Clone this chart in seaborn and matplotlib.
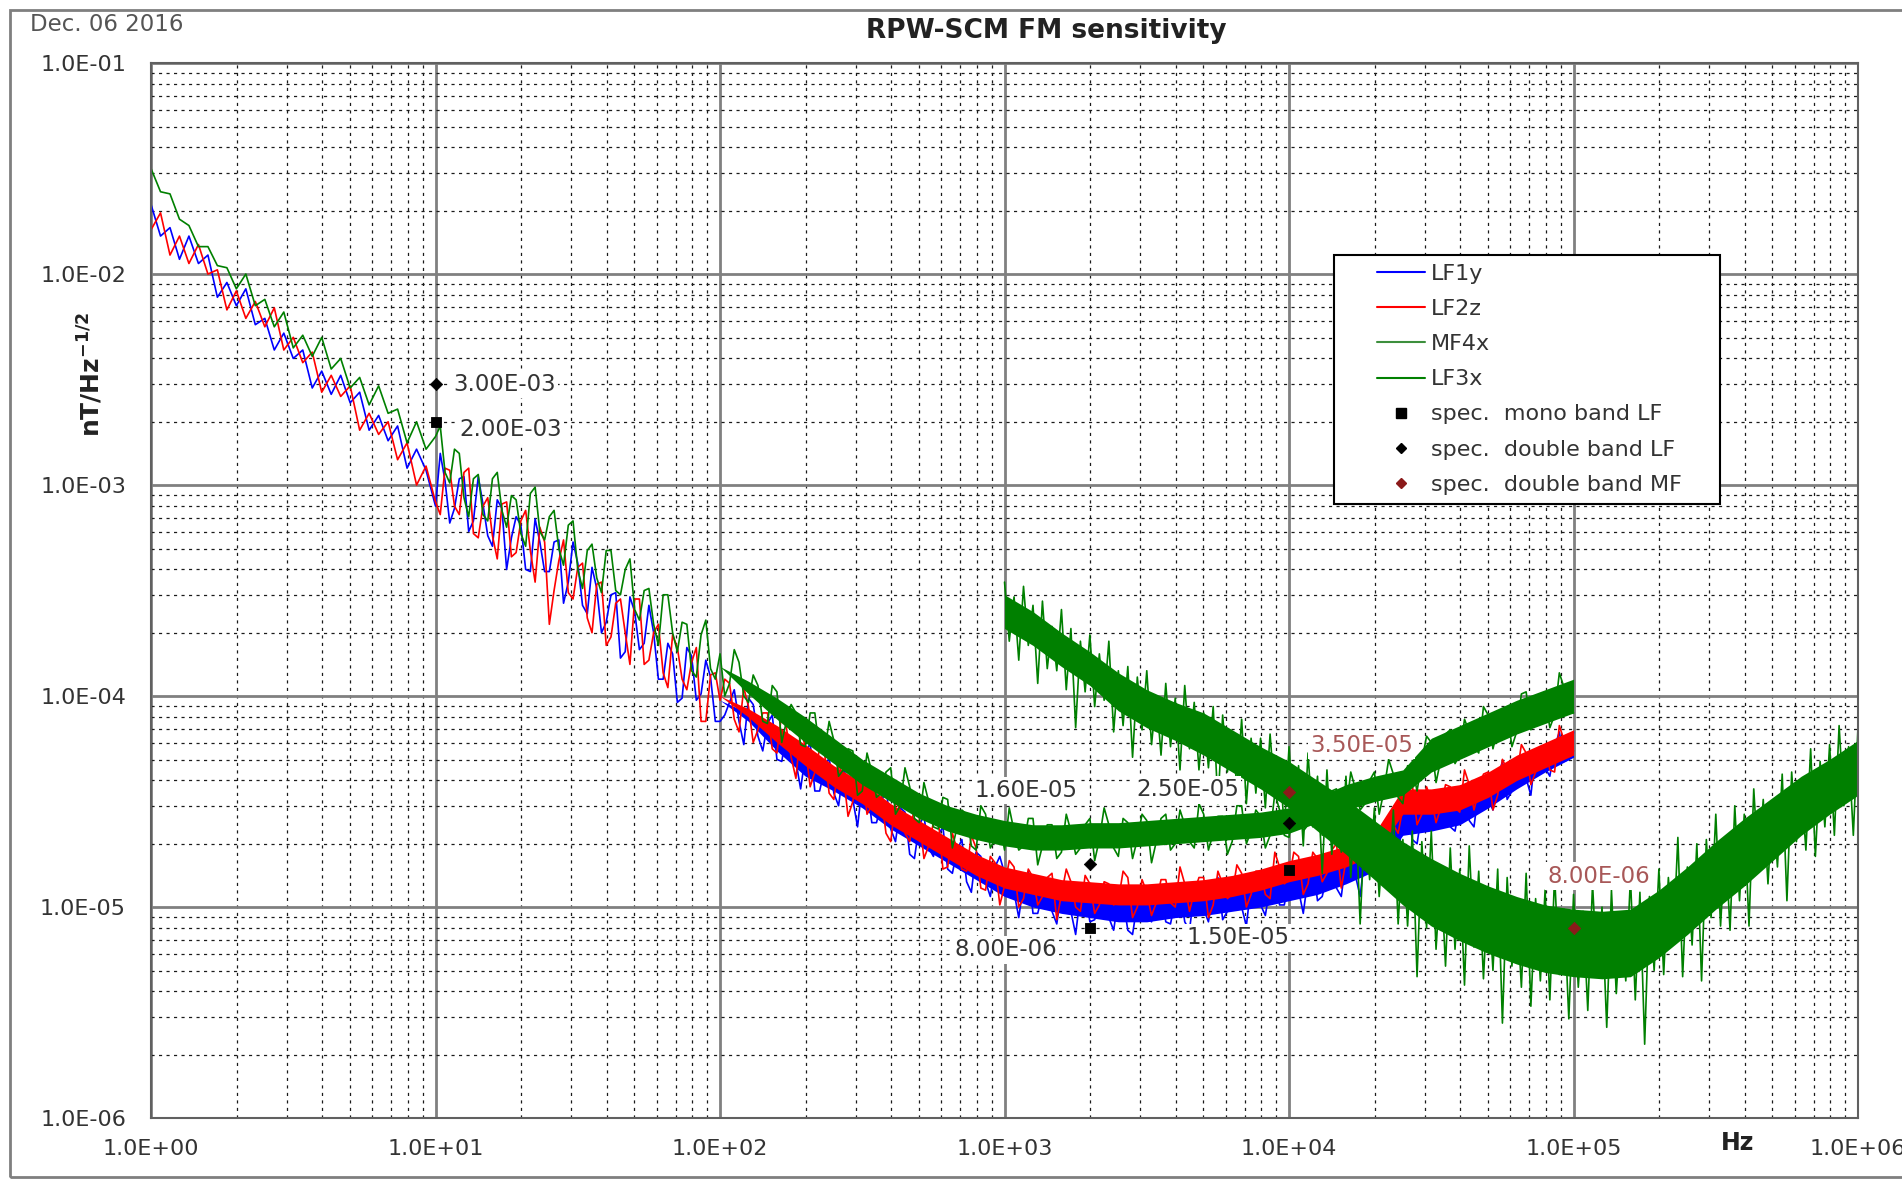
import numpy as np
import pandas as pd
import matplotlib
matplotlib.use("Agg")
import matplotlib.pyplot as plt
import seaborn as sns
from matplotlib.lines import Line2D
from matplotlib.patches import Rectangle
from matplotlib.legend_handler import HandlerLine2D
from matplotlib.ticker import LogLocator, FuncFormatter, NullFormatter

sns.set_theme(style="white")
plt.rcParams['font.family'] = ['DejaVu Sans']
plt.rcParams['mathtext.fontset'] = 'dejavusans'

# ---------------- data ----------------
# sample grid: 30 samples per decade, plus the in-between samples
DECADE_STEPS = [1.000, 1.080, 1.166, 1.259, 1.359, 1.468, 1.585, 1.711, 1.848, 1.995,
                2.154, 2.326, 2.512, 2.712, 2.929, 3.162, 3.415, 3.687, 3.981, 4.299,
                4.642, 5.012, 5.412, 5.843, 6.310, 6.813, 7.356, 7.943, 8.577, 9.261]
MID_STEPS = [1.039, 1.122, 1.212, 1.308, 1.413, 1.526, 1.648, 1.778, 1.920, 2.074,
             2.239, 2.418, 2.610, 2.818, 3.043, 3.286, 3.548, 3.831, 4.137, 4.467,
             4.823, 5.208, 5.623, 6.072, 6.556, 7.079, 7.644, 8.254, 8.913, 9.624]
LF_DECADES = [1, 10, 100, 1000, 10000]
LF_MID_DECADES = [10, 100, 1000, 10000]
LF_END = 1e5
MF_DECADES = [1000, 10000, 100000]
MF_END = 1e6

# amplitudes stored as log10(nT/Hz^1/2)
LF1Y_LOG10 = [
    -1.67, -1.82, -1.78, -1.93, -1.82, -1.95, -1.91, -2.11, -2.04, -2.15,
    -2.07, -2.24, -2.21, -2.36, -2.28, -2.40, -2.36, -2.54, -2.46, -2.57,
    -2.48, -2.61, -2.56, -2.74, -2.67, -2.79, -2.72, -2.92, -2.83, -2.93,
    -3.10, -2.98, -3.11, -2.96, -3.17, -3.09, -3.29, -3.11, -3.25, -3.19,
    -3.41, -3.27, -3.41, -3.26, -3.46, -3.37, -3.61, -3.49, -3.65, -3.51,
    -3.79, -3.60, -3.75, -3.70, -3.92, -3.80, -4.01, -3.81, -3.99, -3.91,
    -4.12, -4.03, -4.12, -4.01, -4.19, -4.13, -4.30, -4.18, -4.31, -4.28,
    -4.45, -4.35, -4.46, -4.35, -4.49, -4.42, -4.60, -4.51, -4.63, -4.53,
    -4.75, -4.61, -4.72, -4.66, -4.82, -4.73, -4.88, -4.74, -4.88, -4.81,
    -4.84, -4.93, -4.89, -5.03, -4.94, -5.02, -4.92, -5.02, -4.94, -5.07,
    -4.98, -5.05, -4.96, -5.11, -4.98, -5.04, -4.97, -5.07, -4.97, -5.07,
    -4.93, -5.01, -4.93, -5.06, -4.96, -5.00, -4.89, -4.99, -4.90, -4.99,
    -4.86, -4.92, -4.86, -4.97, -4.85, -4.91, -4.78, -4.85, -4.75, -4.85,
    -4.73, -4.78, -4.54, -4.68, -4.55, -4.60, -4.53, -4.62, -4.52, -4.59,
    -4.44, -4.49, -4.39, -4.49, -4.37, -4.39, -4.26, -4.34, -4.24, -4.31,
    -4.17]
LF1Y_MID_LOG10 = [
    -2.85, -3.18, -2.97, -3.22, -2.96, -3.24, -3.07, -3.40, -3.15, -3.40,
    -3.16, -3.41, -3.27, -3.56, -3.27, -3.57, -3.39, -3.70, -3.52, -3.82,
    -3.53, -3.78, -3.57, -3.92, -3.75, -4.03, -3.77, -4.02, -3.83, -4.12,
    -4.09, -3.97, -4.23, -4.04, -4.26, -4.09, -4.31, -4.22, -4.44, -4.22,
    -4.45, -4.29, -4.52, -4.39, -4.62, -4.41, -4.60, -4.43, -4.69, -4.55,
    -4.77, -4.57, -4.76, -4.62, -4.84, -4.68, -4.93, -4.76, -4.95, -4.76,
    -4.86, -5.05, -4.83, -5.03, -4.88, -5.08, -4.93, -5.13, -4.92, -5.06,
    -4.89, -5.11, -4.96, -5.13, -4.93, -5.07, -4.91, -5.08, -4.91, -5.11,
    -4.93, -5.07, -4.86, -5.02, -4.89, -5.09, -4.88, -5.04, -4.84, -4.99,
    -4.87, -5.03, -4.79, -4.95, -4.78, -4.95, -4.78, -4.95, -4.71, -4.83,
    -4.63, -4.79, -4.54, -4.70, -4.49, -4.63, -4.47, -4.64, -4.45, -4.62,
    -4.42, -4.54, -4.31, -4.45, -4.29, -4.47, -4.24, -4.38, -4.17, -4.30]

LF2Z_LOG10 = [
    -1.79, -1.71, -1.91, -1.82, -1.95, -1.86, -2.00, -1.98, -2.17, -2.08,
    -2.21, -2.13, -2.25, -2.16, -2.36, -2.30, -2.42, -2.37, -2.56, -2.48,
    -2.58, -2.53, -2.74, -2.66, -2.76, -2.70, -2.88, -2.80, -3.00, -2.91,
    -3.08, -2.92, -3.10, -2.94, -3.23, -3.10, -3.24, -3.09, -3.34, -3.17,
    -3.31, -3.20, -3.66, -3.36, -3.51, -3.39, -3.63, -3.47, -3.76, -3.56,
    -3.70, -3.54, -3.85, -3.70, -3.89, -3.71, -3.92, -3.84, -4.12, -3.90,
    -4.02, -3.94, -4.17, -4.05, -4.16, -4.08, -4.27, -4.15, -4.39, -4.24,
    -4.36, -4.26, -4.49, -4.37, -4.50, -4.36, -4.52, -4.47, -4.69, -4.54,
    -4.69, -4.57, -4.71, -4.58, -4.81, -4.73, -4.83, -4.72, -4.92, -4.79,
    -4.90, -4.81, -4.96, -4.86, -4.95, -4.84, -4.94, -4.88, -5.02, -4.89,
    -4.99, -4.89, -4.97, -4.86, -5.00, -4.93, -4.98, -4.87, -5.00, -4.89,
    -4.93, -4.86, -4.99, -4.89, -4.94, -4.84, -4.94, -4.83, -4.96, -4.81,
    -4.87, -4.76, -4.89, -4.77, -4.84, -4.70, -4.78, -4.70, -4.81, -4.66,
    -4.74, -4.61, -4.53, -4.42, -4.56, -4.49, -4.53, -4.43, -4.55, -4.42,
    -4.45, -4.36, -4.47, -4.35, -4.38, -4.27, -4.36, -4.24, -4.36, -4.21,
    -4.26]
LF2Z_MID_LOG10 = [
    -3.14, -2.93, -3.14, -2.92, -3.25, -3.06, -3.35, -3.08, -3.32, -3.12,
    -3.46, -3.27, -3.50, -3.26, -3.54, -3.37, -3.70, -3.46, -3.72, -3.54,
    -3.85, -3.54, -3.83, -3.66, -3.96, -3.77, -3.97, -3.77, -4.12, -3.89,
    -3.92, -4.11, -3.96, -4.22, -4.08, -4.25, -4.08, -4.29, -4.16, -4.43,
    -4.25, -4.46, -4.33, -4.57, -4.34, -4.56, -4.42, -4.65, -4.50, -4.65,
    -4.51, -4.77, -4.60, -4.82, -4.65, -4.82, -4.66, -4.91, -4.76, -4.99,
    -4.78, -5.00, -4.82, -4.99, -4.86, -5.06, -4.82, -5.00, -4.85, -5.03,
    -4.88, -4.99, -4.83, -5.05, -4.87, -5.04, -4.87, -4.98, -4.81, -5.02,
    -4.86, -5.05, -4.83, -4.96, -4.80, -5.00, -4.83, -4.94, -4.74, -4.89,
    -4.74, -4.94, -4.74, -4.88, -4.73, -4.91, -4.65, -4.80, -4.63, -4.79,
    -4.61, -4.65, -4.39, -4.61, -4.43, -4.60, -4.42, -4.53, -4.35, -4.54,
    -4.37, -4.54, -4.30, -4.41, -4.23, -4.42, -4.24, -4.35, -4.14, -4.28]

LF3X_LOG10 = [
    -1.50, -1.61, -1.62, -1.74, -1.77, -1.87, -1.87, -1.96, -1.97, -2.07,
    -2.00, -2.15, -2.12, -2.25, -2.18, -2.35, -2.29, -2.39, -2.30, -2.45,
    -2.40, -2.54, -2.49, -2.62, -2.53, -2.66, -2.64, -2.80, -2.70, -2.83,
    -2.77, -2.94, -2.83, -3.06, -2.97, -3.14, -2.97, -3.12, -3.05, -3.23,
    -3.04, -3.22, -3.15, -3.30, -3.19, -3.40, -3.31, -3.44, -3.31, -3.50,
    -3.40, -3.59, -3.50, -3.66, -3.52, -3.70, -3.65, -3.88, -3.71, -3.87,
    -3.80, -3.94, -3.84, -4.03, -3.95, -4.13, -3.98, -4.12, -4.08, -4.24,
    -4.08, -4.27, -4.21, -4.35, -4.26, -4.45, -4.36, -4.46, -4.34, -4.52,
    -4.43, -4.60, -4.50, -4.63, -4.49, -4.62, -4.56, -4.73, -4.56, -4.68,
    -4.73, -4.64, -4.71, -4.58, -4.71, -4.61, -4.74, -4.64, -4.72, -4.58,
    -4.68, -4.61, -4.76, -4.60, -4.68, -4.59, -4.69, -4.56, -4.70, -4.61,
    -4.72, -4.56, -4.65, -4.57, -4.69, -4.52, -4.64, -4.57, -4.66, -4.54,
    -4.67, -4.55, -4.61, -4.45, -4.56, -4.44, -4.55, -4.44, -4.51, -4.36,
    -4.45, -4.37, -4.51, -4.34, -4.31, -4.22, -4.30, -4.16, -4.28, -4.17,
    -4.27, -4.09, -4.16, -4.07, -4.17, -3.98, -4.10, -4.01, -4.09, -3.96,
    -4.08]
LF3X_MID_LOG10 = [
    -2.72, -2.99, -2.85, -3.15, -2.95, -3.17, -2.94, -3.20, -3.07, -3.29,
    -3.01, -3.26, -3.12, -3.38, -3.17, -3.49, -3.28, -3.51, -3.31, -3.52,
    -3.35, -3.64, -3.49, -3.76, -3.52, -3.79, -3.66, -3.91, -3.64, -3.92,
    -4.00, -3.78, -4.00, -3.90, -4.12, -3.95, -4.22, -4.04, -4.23, -4.08,
    -4.26, -4.12, -4.38, -4.25, -4.47, -4.27, -4.48, -4.36, -4.56, -4.34,
    -4.58, -4.41, -4.62, -4.48, -4.72, -4.54, -4.71, -4.52, -4.72, -4.60,
    -4.53, -4.73, -4.58, -4.80, -4.61, -4.77, -4.56, -4.75, -4.61, -4.78,
    -4.53, -4.72, -4.58, -4.77, -4.56, -4.79, -4.58, -4.73, -4.54, -4.69,
    -4.51, -4.73, -4.57, -4.75, -4.52, -4.70, -4.54, -4.72, -4.46, -4.66,
    -4.46, -4.64, -4.46, -4.66, -4.45, -4.59, -4.36, -4.54, -4.40, -4.56,
    -4.30, -4.48, -4.33, -4.45, -4.19, -4.41, -4.18, -4.32, -4.11, -4.24,
    -4.05, -4.25, -4.07, -4.24, -3.99, -4.16, -3.99, -4.15, -3.89, -4.08]

# MF4x: upper noise tips on the main grid, lower tips on the in-between grid
MF4X_LOG10 = [
    -3.46, -3.53, -3.48, -3.57, -3.55, -3.67, -3.59, -3.68, -3.74, -3.71,
    -3.80, -3.74, -3.88, -3.86, -3.91, -3.88, -4.00, -3.94, -4.01, -3.95,
    -4.03, -4.08, -4.05, -4.09, -4.18, -4.11, -4.20, -4.20, -4.18, -4.30,
    -4.24, -4.33, -4.27, -4.38, -4.35, -4.49, -4.38, -4.50, -4.57, -4.53,
    -4.63, -4.54, -4.68, -4.64, -4.69, -4.64, -4.82, -4.72, -4.82, -4.71,
    -4.83, -4.90, -4.82, -4.86, -4.98, -4.84, -4.96, -4.92, -4.85, -5.01,
    -4.94, -5.02, -4.89, -5.00, -4.92, -5.04, -4.86, -4.93, -4.95, -4.82,
    -4.86, -4.67, -4.81, -4.70, -4.68, -4.56, -4.68, -4.52, -4.56, -4.44,
    -4.49, -4.50, -4.37, -4.36, -4.41, -4.25, -4.31, -4.23, -4.14, -4.24,
    -4.14]
MF4X_MID_LOG10 = [
    -3.74, -3.83, -3.76, -3.94, -3.87, -3.88, -3.97, -4.15, -3.98, -4.05,
    -4.02, -4.17, -4.14, -4.29, -4.16, -4.23, -4.28, -4.24, -4.35, -4.25,
    -4.35, -4.34, -4.51, -4.36, -4.43, -4.51, -4.46, -4.53, -4.48, -4.63,
    -4.60, -4.71, -4.62, -4.84, -4.75, -4.74, -4.86, -5.08, -4.87, -4.95,
    -4.91, -5.08, -5.09, -5.33, -5.10, -5.20, -5.28, -5.20, -5.37, -5.19,
    -5.34, -5.30, -5.55, -5.28, -5.38, -5.47, -5.35, -5.44, -5.32, -5.53,
    -5.38, -5.49, -5.33, -5.57, -5.41, -5.35, -5.44, -5.65, -5.30, -5.32,
    -5.18, -5.33, -5.18, -5.35, -5.05, -5.09, -5.11, -4.97, -5.09, -4.82,
    -4.89, -4.81, -4.97, -4.69, -4.73, -4.76, -4.62, -4.66, -4.52, -4.66]

# dense-noise core of each trace (log10), sampled 10 per decade
BAND_STEPS = [1.000, 1.259, 1.585, 1.995, 2.512, 3.162, 3.981, 5.012, 6.310, 7.943]
LF_BAND_DECADES = [100, 1000, 10000]
MF_BAND_DECADES = [1000, 10000, 100000]

LF1Y_BAND_HI = [
    -4.02, -4.08, -4.18, -4.28, -4.35, -4.43, -4.53, -4.61, -4.69, -4.77,
    -4.85, -4.90, -4.93, -4.95, -4.97, -4.97, -4.95, -4.94, -4.92, -4.90,
    -4.87, -4.84, -4.79, -4.73, -4.54, -4.52, -4.49, -4.41, -4.32, -4.24,
    -4.17]
LF1Y_BAND_LO = [
    -4.02, -4.12, -4.26, -4.38, -4.45, -4.53, -4.63, -4.71, -4.79, -4.87,
    -4.95, -5.00, -5.03, -5.05, -5.07, -5.07, -5.05, -5.04, -5.02, -5.00,
    -4.97, -4.94, -4.89, -4.83, -4.66, -4.64, -4.61, -4.53, -4.44, -4.36,
    -4.29]
LF2Z_BAND_HI = [
    -4.00, -4.06, -4.14, -4.23, -4.33, -4.41, -4.51, -4.59, -4.67, -4.75,
    -4.81, -4.84, -4.87, -4.88, -4.89, -4.89, -4.88, -4.87, -4.85, -4.82,
    -4.78, -4.75, -4.71, -4.65, -4.44, -4.44, -4.42, -4.36, -4.28, -4.22,
    -4.16]
LF2Z_BAND_LO = [
    -4.00, -4.10, -4.22, -4.33, -4.43, -4.51, -4.61, -4.69, -4.77, -4.85,
    -4.91, -4.94, -4.97, -4.98, -4.99, -4.99, -4.98, -4.97, -4.95, -4.92,
    -4.88, -4.85, -4.81, -4.75, -4.56, -4.56, -4.54, -4.48, -4.40, -4.34,
    -4.28]
LF3X_BAND_HI = [
    -3.86, -3.93, -4.01, -4.10, -4.20, -4.30, -4.38, -4.46, -4.52, -4.56,
    -4.59, -4.61, -4.61, -4.60, -4.60, -4.59, -4.58, -4.57, -4.56, -4.55,
    -4.53, -4.48, -4.42, -4.38, -4.35, -4.20, -4.14, -4.08, -4.02, -3.97,
    -3.92]
LF3X_BAND_LO = [
    -3.86, -3.99, -4.11, -4.22, -4.32, -4.42, -4.50, -4.58, -4.64, -4.68,
    -4.71, -4.73, -4.73, -4.72, -4.72, -4.71, -4.70, -4.69, -4.68, -4.67,
    -4.65, -4.60, -4.54, -4.50, -4.47, -4.36, -4.30, -4.24, -4.18, -4.13,
    -4.08]
MF4X_BAND_HI = [
    -3.52, -3.60, -3.70, -3.79, -3.89, -3.97, -4.03, -4.08, -4.16, -4.24,
    -4.31, -4.40, -4.49, -4.59, -4.69, -4.77, -4.84, -4.90, -4.95, -4.99,
    -5.01, -5.02, -5.01, -4.92, -4.81, -4.69, -4.58, -4.48, -4.38, -4.30,
    -4.21]
MF4X_BAND_LO = [
    -3.68, -3.76, -3.86, -3.95, -4.07, -4.15, -4.21, -4.28, -4.36, -4.44,
    -4.53, -4.64, -4.75, -4.87, -4.99, -5.09, -5.16, -5.22, -5.27, -5.31,
    -5.33, -5.34, -5.33, -5.24, -5.13, -5.01, -4.90, -4.78, -4.66, -4.56,
    -4.47]

SERIES_NAMES = ["LF1y", "LF2z", "MF4x", "LF3x"]
SERIES_COLORS = ["#0000ff", "#ff0000", "#008000", "#008000"]

SPEC_MONO_LF_FREQ = [10, 2000, 10000]
SPEC_MONO_LF_VAL = [2.0e-3, 8.0e-6, 1.5e-5]
SPEC_DOUBLE_LF_FREQ = [10, 2000, 10000]
SPEC_DOUBLE_LF_VAL = [3.0e-3, 1.6e-5, 2.5e-5]
SPEC_DOUBLE_MF_FREQ = [10000, 100000]
SPEC_DOUBLE_MF_VAL = [3.5e-5, 8.0e-6]

X_TICKS = [1e0, 1e1, 1e2, 1e3, 1e4, 1e5, 1e6]
Y_TICKS = [1e-6, 1e-5, 1e-4, 1e-3, 1e-2, 1e-1]

# ---------------- assemble ----------------
lf_freq = [d * s for d in LF_DECADES for s in DECADE_STEPS] + [LF_END]
lf_mid_freq = [d * s for d in LF_MID_DECADES for s in MID_STEPS]
mf_freq = [d * s for d in MF_DECADES for s in DECADE_STEPS] + [MF_END]
mf_mid_freq = [d * s for d in MF_DECADES for s in MID_STEPS]
lf_band_freq = [d * s for d in LF_BAND_DECADES for s in BAND_STEPS] + [LF_END]
mf_band_freq = [d * s for d in MF_BAND_DECADES for s in BAND_STEPS] + [MF_END]

traces = {
    "LF1y": (lf_freq + lf_mid_freq, LF1Y_LOG10 + LF1Y_MID_LOG10,
             lf_band_freq, LF1Y_BAND_LO, LF1Y_BAND_HI),
    "LF2z": (lf_freq + lf_mid_freq, LF2Z_LOG10 + LF2Z_MID_LOG10,
             lf_band_freq, LF2Z_BAND_LO, LF2Z_BAND_HI),
    "MF4x": (mf_freq + mf_mid_freq, MF4X_LOG10 + MF4X_MID_LOG10,
             mf_band_freq, MF4X_BAND_LO, MF4X_BAND_HI),
    "LF3x": (lf_freq + lf_mid_freq, LF3X_LOG10 + LF3X_MID_LOG10,
             lf_band_freq, LF3X_BAND_LO, LF3X_BAND_HI),
}
df = pd.concat([pd.DataFrame({"freq": v[0], "nT": 10.0 ** np.array(v[1]), "series": k})
                for k, v in traces.items()], ignore_index=True)
df = df.sort_values(["series", "freq"]).reset_index(drop=True)

TXT = "#333333"

fig = plt.figure(figsize=(19.02, 11.83), dpi=100)
fig.patch.set_facecolor("white")
ax = fig.add_axes([0.0794, 0.0549, 0.8975, 0.8918])
ax.set_xscale("log")
ax.set_yscale("log")

z = 1.0
for name, color in zip(SERIES_NAMES, SERIES_COLORS):
    fr, lg, bfr, blo, bhi = traces[name]
    ax.fill_between(bfr, 10.0 ** np.array(blo), 10.0 ** np.array(bhi),
                    color=color, lw=0, zorder=z)
    sns.lineplot(data=df[df["series"] == name], x="freq", y="nT", color=color,
                 estimator=None, sort=True, legend=False, lw=1.2, ax=ax,
                 zorder=z + 0.1)
    z += 0.2

sns.scatterplot(x=SPEC_MONO_LF_FREQ, y=SPEC_MONO_LF_VAL, marker="s", s=60,
                color="black", edgecolor="black", ax=ax, zorder=5, legend=False)
sns.scatterplot(x=SPEC_DOUBLE_LF_FREQ, y=SPEC_DOUBLE_LF_VAL, marker="D", s=40,
                color="black", edgecolor="black", ax=ax, zorder=5, legend=False)
sns.scatterplot(x=SPEC_DOUBLE_MF_FREQ, y=SPEC_DOUBLE_MF_VAL, marker="D", s=40,
                color="#8b1a1a", edgecolor="#8b1a1a", ax=ax, zorder=5, legend=False)

ax.set_xlim(X_TICKS[0], X_TICKS[-1])
ax.set_ylim(Y_TICKS[0], Y_TICKS[-1])
ax.set_xticks(X_TICKS)
ax.set_yticks(Y_TICKS)
fmt = FuncFormatter(lambda v, _: f"{v:.1E}")
ax.xaxis.set_major_formatter(fmt)
ax.yaxis.set_major_formatter(fmt)
for axis in (ax.xaxis, ax.yaxis):
    axis.set_minor_locator(LogLocator(base=10, subs=range(2, 10), numticks=100))
    axis.set_minor_formatter(NullFormatter())

ax.set_axisbelow(True)
ax.grid(which="major", color="#808080", lw=2.0, ls="-")
ax.grid(which="minor", color="#1a1a1a", lw=0.9, ls=(0, (2.5, 3.5)))
for sp in ax.spines.values():
    sp.set_color("#606060")
    sp.set_linewidth(1.5)
ax.tick_params(axis="both", which="major", labelsize=16, colors="#606060",
               labelcolor=TXT, direction="out", length=6, width=1.2)
ax.tick_params(axis="both", which="minor", colors="#606060", direction="out",
               length=3, width=0.8)
ax.tick_params(axis="x", which="major", pad=9)
ax.tick_params(axis="y", which="major", pad=12)
ax.set_xlabel("")
ax.set_ylabel("")

# data labels
ann_kw = dict(textcoords="offset points", fontsize=16.5, va="center", zorder=7,
              bbox=dict(boxstyle="square,pad=0.1", fc="white", ec="none"))
labels = [
    (10, 3.0e-3, "3.00E-03", (13, 0), "left", TXT),
    (10, 2.0e-3, "2.00E-03", (17, -6), "left", TXT),
    (2000, 1.6e-5, "1.60E-05", (-9, 53), "right", TXT),
    (2000, 8.0e-6, "8.00E-06", (-24, -16), "right", TXT),
    (10000, 2.5e-5, "2.50E-05", (-36, 24), "right", TXT),
    (10000, 1.5e-5, "1.50E-05", (0, -49), "right", TXT),
    (10000, 3.5e-5, "3.50E-05", (15, 34), "left", "#a85858"),
    (100000, 8.0e-6, "8.00E-06", (-19, 37), "left", "#a85858"),
]
for fx, fy, t, off, ha, c in labels:
    ax.annotate(t, xy=(fx, fy), xytext=off, ha=ha, color=c, **ann_kw)


class RightHandle(HandlerLine2D):
    """Draw the legend key in the right part of the handle box (Excel style)."""
    def create_artists(self, legend, orig_handle, xdescent, ydescent, width,
                       height, fontsize, trans):
        shift = width * 0.41
        return super().create_artists(legend, orig_handle, xdescent - shift,
                                      ydescent, width - shift, height, fontsize,
                                      trans)


handles = [Line2D([0], [0], color=SERIES_COLORS[0], lw=1.5),
           Line2D([0], [0], color=SERIES_COLORS[1], lw=1.5),
           Line2D([0], [0], color="#3d8f3d", lw=1.5),
           Line2D([0], [0], color=SERIES_COLORS[3], lw=1.5),
           Line2D([0], [0], ls="none", marker="s", color="black", markersize=7),
           Line2D([0], [0], ls="none", marker="D", color="black", markersize=5.5),
           Line2D([0], [0], ls="none", marker="D", color="#8b1a1a", markersize=5.5)]
leg_labels = ["LF1y", "LF2z", "MF4x", "LF3x", "spec.  mono band LF",
              "spec.  double band LF", "spec.  double band MF"]
leg = ax.legend(handles, leg_labels, loc="upper left",
                bbox_to_anchor=(0.693, 0.5, 0.226, 0.318), mode="expand",
                borderaxespad=0, frameon=True, fancybox=False, edgecolor="black",
                framealpha=1, fontsize=16, handlelength=3.7, labelspacing=0.68,
                borderpad=0.4, handletextpad=0.27,
                handler_map={Line2D: RightHandle()})
leg.get_frame().set_linewidth(1.5)
for t in leg.get_texts():
    t.set_color(TXT)
leg.set_zorder(8)

# figure texts
fig.text(0.55, 0.9738, "RPW-SCM FM sensitivity", ha="center", va="center",
         fontsize=19, fontweight="bold", color="#222222")
fig.text(0.0158, 0.9797, "Dec. 06 2016", ha="left", va="center", fontsize=16.5,
         color="#555555")
fig.text(0.0478, 0.683, r"$\mathbf{nT/Hz^{-1/2}}$", rotation=90, ha="center",
         va="center", fontsize=18, color="#222222")
fig.text(0.9133, 0.0338, "Hz", ha="center", va="center", fontsize=17,
         fontweight="bold", color="#222222")

fig.add_artist(Rectangle((10 / 1902, 6 / 1183), 1.0, (1177 - 10) / 1183,
                         transform=fig.transFigure, fill=False,
                         edgecolor="#7f7f7f", lw=2))

fig.savefig("out.png", dpi=100)
